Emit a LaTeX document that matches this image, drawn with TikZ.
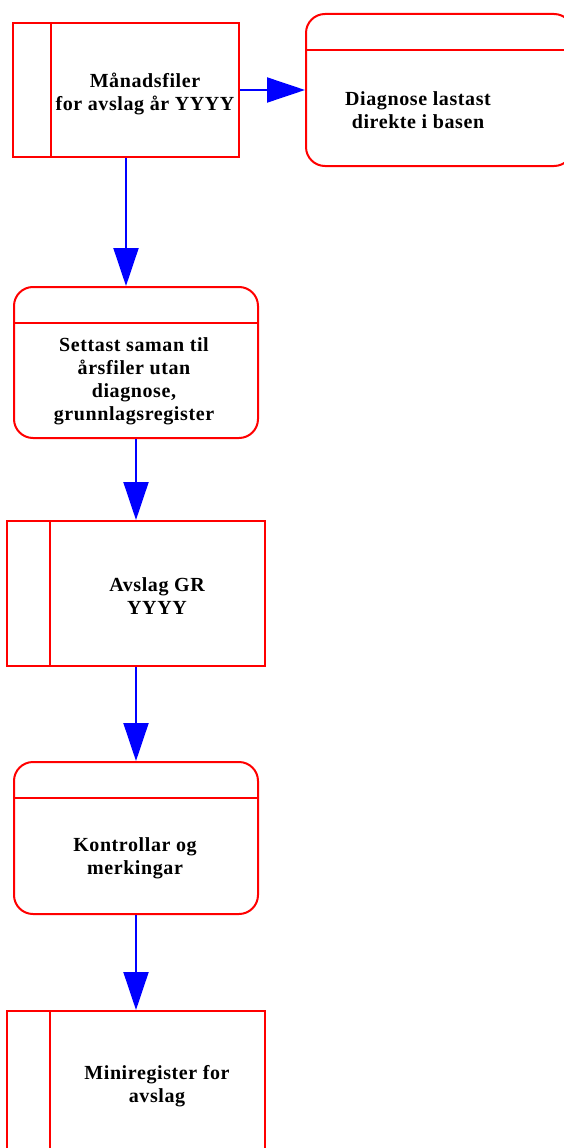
\documentclass[tikz,border=0pt]{standalone}
\usepackage{fontspec}
\setmainfont{Liberation Serif}[LetterSpace=3]
\usetikzlibrary{arrows.meta}
\begin{document}
\begin{tikzpicture}[x=1pt,y=-1pt,line width=2pt,
	store/.style={draw=red,minimum width=258pt,minimum height=145pt,
		path picture={\draw[red,line width=2pt] ([xshift=#1]path picture bounding box.north west) -- ([xshift=#1]path picture bounding box.south west);}},
	proc/.style={draw=red,rounded corners=19pt,minimum width=244pt,minimum height=152pt,
		path picture={\draw[red,line width=2pt] ([yshift=-36pt]path picture bounding box.north west) -- ([yshift=-36pt]path picture bounding box.north east);}},
	txt/.style={align=center,font=\bfseries\fontsize{20}{23}\selectfont,inner sep=0pt},
	flow/.style={blue,-{Triangle[length=38pt,width=25pt]}}]
	\useasboundingbox (0,0) rectangle (564,1148);
	% boxes
	\node[store=38pt,minimum width=226pt,minimum height=134pt] (ms) at (126,90) {};
	\node[proc,minimum width=267pt] (dg) at (439.5,90) {};
	\node[proc,minimum height=151pt] (st) at (136,362.5) {};
	\node[store=43pt] (ag) at (136,593.5) {};
	\node[proc] (ko) at (136,838) {};
	\node[store=43pt,minimum height=151pt] (mr) at (136,1086.5) {};
	% texts
	\node[txt] (ms-t) at (145,93.5) {Månadsfiler\\for avslag år YYYY};
	\node[txt] (dg-t) at (418,110) {Diagnose lastast\\direkte i basen};
	\node[txt] (st-t) at (134,381.5) {Settast saman til\\årsfiler utan\\diagnose,\\grunnlagsregister};
	\node[txt] (ag-t) at (157,596.5) {Avslag GR\\YYYY};
	\node[txt] (ko-t) at (135,858) {Kontrollar og\\merkingar};
	\node[txt] (mr-t) at (157,1086.5) {Miniregister for\\avslag};
	% arrows
	\draw[flow] (ms.east) -- (dg.west);
	\draw[flow] (ms.south) -- (ms.south |- st.north);
	\draw[flow] (st.south) -- (st.south |- ag.north);
	\draw[flow] (ag.south) -- (ag.south |- ko.north);
	\draw[flow] (ko.south) -- (ko.south |- mr.north);
\end{tikzpicture}
\end{document}
